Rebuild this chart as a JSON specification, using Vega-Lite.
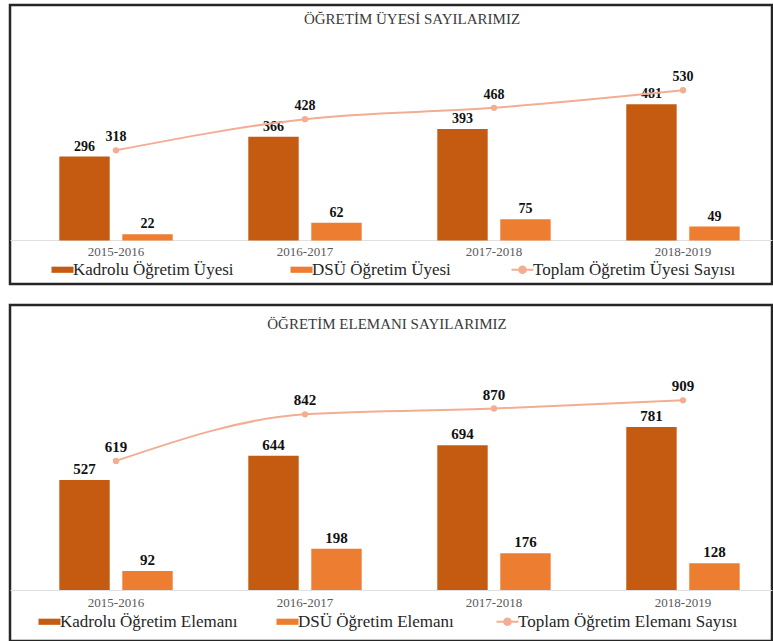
{
  "$schema": "https://vega.github.io/schema/vega-lite/v6.json",
  "padding": {"left": 8, "top": 3, "right": 0, "bottom": 0},
  "background": "#ffffff",
  "spacing": 17,
  "config": {
    "view": {"stroke": "#262626", "strokeWidth": 2.5},
    "font": "Liberation Serif"
  },
  "resolve": {"scale": {"color": "independent", "y": "independent", "x": "independent", "xOffset": "independent"}, "legend": {"color": "independent"}},
  "vconcat": [
    {
      "width": 762,
      "height": 279,
      "title": {"text": "ÖĞRETİM ÜYESİ SAYILARIMIZ", "offset": -37, "dx": 21, "font": "Liberation Serif", "fontSize": 15, "fontWeight": "normal", "color": "#3a3a3a", "anchor": "middle", "baseline": "bottom"},
      "encoding": {
        "x": {"field": "year", "type": "nominal", "title": null,
          "scale": {"paddingInner": 0.4, "paddingOuter": 0.216, "align": 0.604},
          "axis": {"offset": -44, "labelAngle": 0, "ticks": false, "domainColor": "#e0e0e0", "domainWidth": 1, "labelPadding": 5, "labelFont": "Liberation Serif", "labelFontSize": 13, "labelColor": "#595959"}}
      },
      "layer": [
        {
          "data": {"values": [
            {"year": "2015-2016", "series": "Kadrolu Öğretim Üyesi", "value": 296},
            {"year": "2015-2016", "series": "DSÜ Öğretim Üyesi", "value": 22},
            {"year": "2016-2017", "series": "Kadrolu Öğretim Üyesi", "value": 366},
            {"year": "2016-2017", "series": "DSÜ Öğretim Üyesi", "value": 62},
            {"year": "2017-2018", "series": "Kadrolu Öğretim Üyesi", "value": 393},
            {"year": "2017-2018", "series": "DSÜ Öğretim Üyesi", "value": 75},
            {"year": "2018-2019", "series": "Kadrolu Öğretim Üyesi", "value": 481},
            {"year": "2018-2019", "series": "DSÜ Öğretim Üyesi", "value": 49}
          ]},
          "layer": [
            {
              "mark": {"type": "bar"},
              "encoding": {
                "xOffset": {"field": "series", "type": "nominal", "sort": ["Kadrolu Öğretim Üyesi", "DSÜ Öğretim Üyesi"], "scale": {"paddingInner": 0.2, "paddingOuter": 0}},
                "y": {"field": "value", "type": "quantitative", "scale": {"domain": [-154, 831], "nice": false, "zero": false}, "axis": null},
                "color": {"field": "series", "type": "nominal",
                  "scale": {"domain": ["Kadrolu Öğretim Üyesi", "DSÜ Öğretim Üyesi", "Toplam Öğretim Üyesi Sayısı"], "range": ["#C55A11", "#ED7D31", "#F3AD92"]},
                  "legend": {"title": null, "orient": "none", "direction": "horizontal", "legendX": 44, "legendY": 256, "columnPadding": 56, "labelFont": "Liberation Serif", "labelFontSize": 17, "labelLimit": 400, "labelColor": "#262626", "labelOffset": 2, "symbolSize": 484, "padding": 0,
                    "encode": {"symbols": {"update": {
                      "shape": {"signal": "datum.value === 'Toplam Öğretim Üyesi Sayısı' ? 'M-1,0L1,0M0.3,0A0.3,0.3,0,1,1,-0.3,0A0.3,0.3,0,1,1,0.3,0' : 'M-1,-0.28L1,-0.28L1,0.28L-1,0.28Z'"},
                      "fill": {"signal": "datum.value === 'Kadrolu Öğretim Üyesi' ? '#C55A11' : datum.value === 'DSÜ Öğretim Üyesi' ? '#ED7D31' : '#F3AD92'"},
                      "stroke": {"signal": "datum.value === 'Kadrolu Öğretim Üyesi' ? '#C55A11' : datum.value === 'DSÜ Öğretim Üyesi' ? '#ED7D31' : '#F3AD92'"},
                      "strokeWidth": {"signal": "datum.value === 'Toplam Öğretim Üyesi Sayısı' ? 2 : 0"},
                      "opacity": {"value": 1}
                    }}}}
                }
              }
            },
            {
              "mark": {"type": "text", "baseline": "bottom", "dy": -3, "font": "Liberation Serif", "fontWeight": "bold", "fontSize": 14, "color": "#111111"},
              "encoding": {
                "xOffset": {"field": "series", "type": "nominal", "sort": ["Kadrolu Öğretim Üyesi", "DSÜ Öğretim Üyesi"]},
                "y": {"field": "value", "type": "quantitative"},
                "text": {"field": "value", "type": "quantitative"}
              }
            }
          ]
        },
        {
          "data": {"values": [
            {"year": "2015-2016", "series": "Toplam Öğretim Üyesi Sayısı", "total": 318},
            {"year": "2016-2017", "series": "Toplam Öğretim Üyesi Sayısı", "total": 428},
            {"year": "2017-2018", "series": "Toplam Öğretim Üyesi Sayısı", "total": 468},
            {"year": "2018-2019", "series": "Toplam Öğretim Üyesi Sayısı", "total": 530}
          ]},
          "layer": [
            {
              "mark": {"type": "line", "interpolate": "monotone", "strokeWidth": 2, "point": {"filled": true, "size": 40}},
              "encoding": {
                "y": {"field": "total", "type": "quantitative"},
                "color": {"field": "series", "type": "nominal"}
              }
            },
            {
              "mark": {"type": "text", "baseline": "bottom", "dy": -6, "font": "Liberation Serif", "fontWeight": "bold", "fontSize": 14, "color": "#111111"},
              "encoding": {
                "y": {"field": "total", "type": "quantitative"},
                "text": {"field": "total", "type": "quantitative"}
              }
            }
          ]
        }
      ]
    },
    {
      "width": 762,
      "height": 336,
      "title": {"text": "ÖĞRETİM ELEMANI SAYILARIMIZ", "offset": -42, "dx": -4, "font": "Liberation Serif", "fontSize": 15, "fontWeight": "normal", "color": "#3a3a3a", "anchor": "middle", "baseline": "bottom"},
      "encoding": {
        "x": {"field": "year", "type": "nominal", "title": null,
          "scale": {"paddingInner": 0.4, "paddingOuter": 0.216, "align": 0.604},
          "axis": {"offset": -51, "labelAngle": 0, "ticks": false, "domainColor": "#e0e0e0", "domainWidth": 1, "labelPadding": 6, "labelFont": "Liberation Serif", "labelFontSize": 13, "labelColor": "#595959"}}
      },
      "layer": [
        {
          "data": {"values": [
            {"year": "2015-2016", "series": "Kadrolu Öğretim Elemanı", "value": 527},
            {"year": "2015-2016", "series": "DSÜ Öğretim Elemanı", "value": 92},
            {"year": "2016-2017", "series": "Kadrolu Öğretim Elemanı", "value": 644},
            {"year": "2016-2017", "series": "DSÜ Öğretim Elemanı", "value": 198},
            {"year": "2017-2018", "series": "Kadrolu Öğretim Elemanı", "value": 694},
            {"year": "2017-2018", "series": "DSÜ Öğretim Elemanı", "value": 176},
            {"year": "2018-2019", "series": "Kadrolu Öğretim Elemanı", "value": 781},
            {"year": "2018-2019", "series": "DSÜ Öğretim Elemanı", "value": 128}
          ]},
          "layer": [
            {
              "mark": {"type": "bar"},
              "encoding": {
                "xOffset": {"field": "series", "type": "nominal", "sort": ["Kadrolu Öğretim Elemanı", "DSÜ Öğretim Elemanı"], "scale": {"paddingInner": 0.2, "paddingOuter": 0}},
                "y": {"field": "value", "type": "quantitative", "scale": {"domain": [-244, 1366], "nice": false, "zero": false}, "axis": null},
                "color": {"field": "series", "type": "nominal",
                  "scale": {"domain": ["Kadrolu Öğretim Elemanı", "DSÜ Öğretim Elemanı", "Toplam Öğretim Elemanı Sayısı"], "range": ["#C55A11", "#ED7D31", "#F3AD92"]},
                  "legend": {"title": null, "orient": "none", "direction": "horizontal", "legendX": 31, "legendY": 308, "columnPadding": 38, "labelFont": "Liberation Serif", "labelFontSize": 17, "labelLimit": 400, "labelColor": "#262626", "labelOffset": 2, "symbolSize": 484, "padding": 0,
                    "encode": {"symbols": {"update": {
                      "shape": {"signal": "datum.value === 'Toplam Öğretim Elemanı Sayısı' ? 'M-1,0L1,0M0.3,0A0.3,0.3,0,1,1,-0.3,0A0.3,0.3,0,1,1,0.3,0' : 'M-1,-0.28L1,-0.28L1,0.28L-1,0.28Z'"},
                      "fill": {"signal": "datum.value === 'Kadrolu Öğretim Elemanı' ? '#C55A11' : datum.value === 'DSÜ Öğretim Elemanı' ? '#ED7D31' : '#F3AD92'"},
                      "stroke": {"signal": "datum.value === 'Kadrolu Öğretim Elemanı' ? '#C55A11' : datum.value === 'DSÜ Öğretim Elemanı' ? '#ED7D31' : '#F3AD92'"},
                      "strokeWidth": {"signal": "datum.value === 'Toplam Öğretim Elemanı Sayısı' ? 2 : 0"},
                      "opacity": {"value": 1}
                    }}}}
                }
              }
            },
            {
              "mark": {"type": "text", "baseline": "bottom", "dy": -3, "font": "Liberation Serif", "fontWeight": "bold", "fontSize": 15, "color": "#111111"},
              "encoding": {
                "xOffset": {"field": "series", "type": "nominal", "sort": ["Kadrolu Öğretim Elemanı", "DSÜ Öğretim Elemanı"]},
                "y": {"field": "value", "type": "quantitative"},
                "text": {"field": "value", "type": "quantitative"}
              }
            }
          ]
        },
        {
          "data": {"values": [
            {"year": "2015-2016", "series": "Toplam Öğretim Elemanı Sayısı", "total": 619},
            {"year": "2016-2017", "series": "Toplam Öğretim Elemanı Sayısı", "total": 842},
            {"year": "2017-2018", "series": "Toplam Öğretim Elemanı Sayısı", "total": 870},
            {"year": "2018-2019", "series": "Toplam Öğretim Elemanı Sayısı", "total": 909}
          ]},
          "layer": [
            {
              "mark": {"type": "line", "interpolate": "monotone", "strokeWidth": 2, "point": {"filled": true, "size": 40}},
              "encoding": {
                "y": {"field": "total", "type": "quantitative"},
                "color": {"field": "series", "type": "nominal"}
              }
            },
            {
              "mark": {"type": "text", "baseline": "bottom", "dy": -6, "font": "Liberation Serif", "fontWeight": "bold", "fontSize": 15, "color": "#111111"},
              "encoding": {
                "y": {"field": "total", "type": "quantitative"},
                "text": {"field": "total", "type": "quantitative"}
              }
            }
          ]
        }
      ]
    }
  ]
}
